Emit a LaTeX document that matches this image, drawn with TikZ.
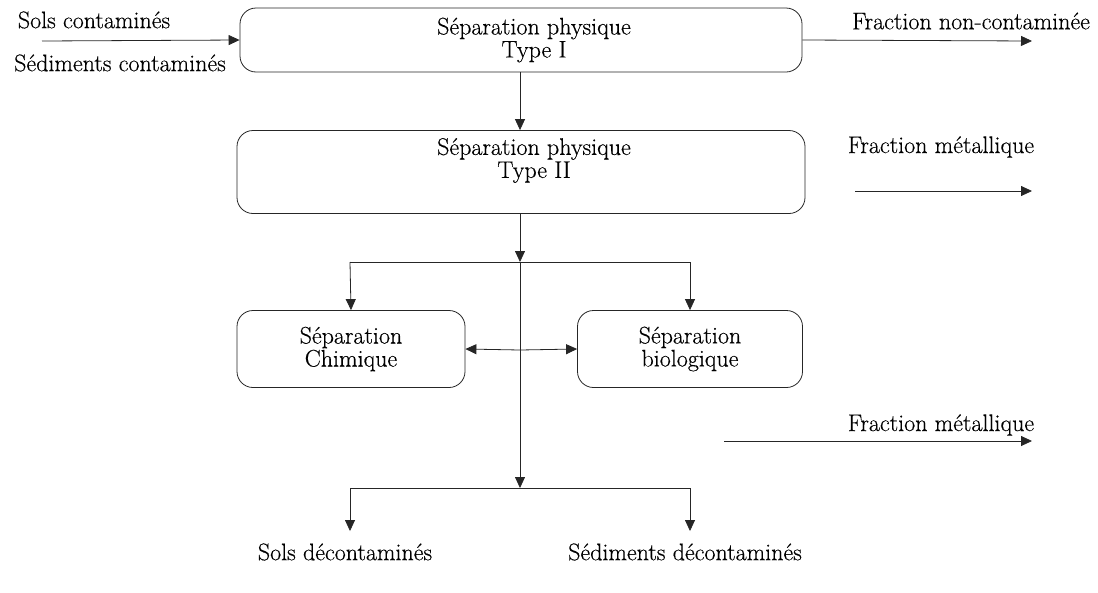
\documentclass[tikz,border=0pt]{standalone}
\usepackage{fontspec}
\setmainfont{Latin Modern Roman}[FakeBold=0.4]
\usetikzlibrary{arrows.meta}
\newcommand{\indentline}{\hspace*{26pt}}
\begin{document}
\begin{tikzpicture}[x=1pt,y=-1pt,
  line width=0.8pt, draw=black!85,
  every node/.style={font=\fontsize{24}{23}\selectfont, inner sep=0pt, text=black},
  proc/.style={draw=black!85, rounded corners=16pt, align=center},
  lbl/.style={align=center},
  flow/.style={-{Triangle[length=11pt,width=10pt]}}]
\useasboundingbox (0,0) rectangle (1098,592);

% treatment stages
\node[proc, minimum width=562pt, minimum height=64pt] (b1) at (521,40)
  {\indentline Séparation physique\\\indentline Type I};
\node[proc, minimum width=568pt, minimum height=83pt, text depth=28pt] (b2) at (521,172)
  {\indentline Séparation physique\\\indentline Type II};
\node[proc, minimum width=228pt, minimum height=77pt] (ch) at (351,349) {Séparation\\Chimique};
\node[proc, minimum width=225pt, minimum height=77pt] (bio) at (690,349) {Séparation\\biologique};

% inputs and outputs
\node[lbl] (sc) at (94,20) {Sols contaminés};
\node[lbl] (sdc) at (120,63) {Sédiments contaminés};
\node[lbl] (fnc) at (971,21) {Fraction non-contaminée};
\node[lbl] (fm1) at (941,147) {Fraction métallique};
\node[lbl] (fm2) at (941,425) {Fraction métallique};
\node[lbl] (sd) at (345,552) {Sols décontaminés};
\node[lbl] (sed) at (685,552) {Sédiments décontaminés};

% junction points
\coordinate (in) at (42,41);
\coordinate (o1) at (1032,41);
\coordinate (m1s) at (855,191);
\coordinate (m1e) at (1032,191);
\coordinate (m2s) at (724,441);
\coordinate (m2e) at (1032,441);
\coordinate (sp) at (520,262);
\coordinate (spL) at (350,262);
\coordinate (spR) at (690,262);
\coordinate (mid) at (520,350);
\coordinate (jn) at (520,488);
\coordinate (jL) at (350,488);
\coordinate (jR) at (690,488);

% connectors
\draw[flow] (in) -- (b1.west);
\draw[flow] (b1.east) -- (o1);
\draw[flow] (b1.south -| sp) -- (b2.north -| sp);
\draw[flow] (m1s) -- (m1e);
\draw[flow] (b2.south -| sp) -- (sp);
\draw (spL) -- (spR);
\draw[flow] (spL) -- (ch.north);
\draw[flow] (spR) -- (bio.north);
\draw[flow] (mid) -- (ch.east);
\draw[flow] (mid) -- (bio.west);
\draw[flow] (sp) -- (jn);
\draw (jL) -- (jR);
\draw[flow] (m2s) -- (m2e);
\draw[flow, shorten >=12pt] (jL) -- (jL |- sd.north);
\draw[flow, shorten >=12pt] (jR) -- (jR |- sed.north);
\end{tikzpicture}
\end{document}
